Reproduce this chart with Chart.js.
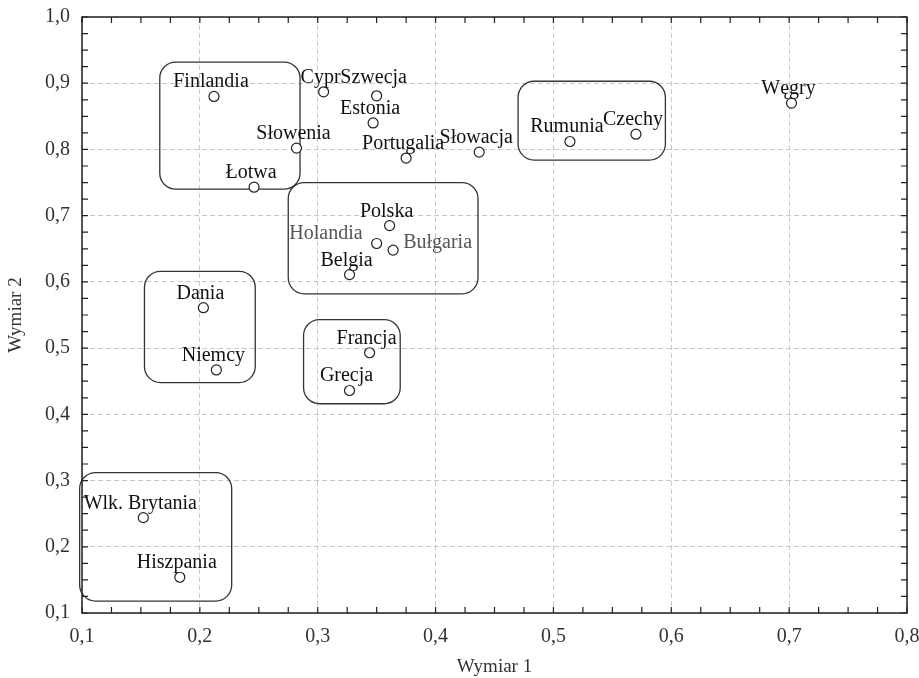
<!DOCTYPE html>
<html lang="pl">
<head>
<meta charset="utf-8">
<title>Wymiar 1 / Wymiar 2</title>
<script src="https://cdn.jsdelivr.net/npm/chart.js@4.4.1/dist/chart.umd.min.js"></script>
<style>
  html, body { margin: 0; padding: 0; background: #fff; }
  #wrap { width: 919px; height: 678px; }
</style>
</head>
<body>
<div id="wrap"><canvas id="chart"></canvas></div>
<script>
// dane
const countries = ['Finlandia', 'Cypr', 'Szwecja', 'Estonia', 'Słowenia', 'Portugalia', 'Słowacja',
  'Rumunia', 'Czechy', 'Węgry', 'Łotwa', 'Polska', 'Holandia', 'Bułgaria', 'Belgia',
  'Dania', 'Niemcy', 'Francja', 'Grecja', 'Wlk. Brytania', 'Hiszpania'];
const dim1 = [0.212, 0.305, 0.350, 0.347, 0.282, 0.375, 0.437,
  0.514, 0.570, 0.702, 0.246, 0.361, 0.350, 0.364, 0.327,
  0.203, 0.214, 0.344, 0.327, 0.152, 0.183];
const dim2 = [0.880, 0.887, 0.881, 0.840, 0.802, 0.787, 0.796,
  0.812, 0.823, 0.870, 0.743, 0.685, 0.658, 0.648, 0.611,
  0.561, 0.467, 0.493, 0.436, 0.244, 0.154];
// miejsce etykiety: 'top', 'high', 'left' albo 'right'
const labelSide = ['top', 'top', 'high', 'top', 'top', 'top', 'top',
  'top', 'top', 'top', 'top', 'top', 'left', 'right', 'top',
  'top', 'top', 'top', 'top', 'top', 'top'];
const greyLabels = ['Holandia', 'Bułgaria'];

// grupy (ramki) w jednostkach osi: [x0, x1, y dół, y góra]
const groups = [
  [0.166, 0.285, 0.740, 0.932],
  [0.275, 0.436, 0.582, 0.750],
  [0.470, 0.595, 0.784, 0.903],
  [0.153, 0.247, 0.448, 0.616],
  [0.288, 0.370, 0.416, 0.543],
  [0.098, 0.227, 0.118, 0.312]
];

const xTicks = [0.1, 0.2, 0.3, 0.4, 0.5, 0.6, 0.7, 0.8];
const yTicks = [0.1, 0.2, 0.3, 0.4, 0.5, 0.6, 0.7, 0.8, 0.9, 1.0];

const serif = '"Liberation Serif", "Times New Roman", serif';

function fmt(v) {
  return v.toFixed(1).replace('.', ',');
}

function roundRect(ctx, x, y, w, h, r) {
  ctx.beginPath();
  ctx.moveTo(x + r, y);
  ctx.lineTo(x + w - r, y);
  ctx.arcTo(x + w, y, x + w, y + r, r);
  ctx.lineTo(x + w, y + h - r);
  ctx.arcTo(x + w, y + h, x + w - r, y + h, r);
  ctx.lineTo(x + r, y + h);
  ctx.arcTo(x, y + h, x, y + h - r, r);
  ctx.lineTo(x, y + r);
  ctx.arcTo(x, y, x + r, y, r);
  ctx.closePath();
}

// ramka, znaczniki do wewnątrz, grupy i podpisy punktów
const extrasPlugin = {
  id: 'extras',
  beforeDatasetsDraw(chart) {
    const ctx = chart.ctx;
    const xs = chart.scales.x, ys = chart.scales.y;
    ctx.save();
    ctx.strokeStyle = '#333';
    ctx.lineWidth = 1.3;
    groups.forEach(g => {
      const x0 = xs.getPixelForValue(g[0]), x1 = xs.getPixelForValue(g[1]);
      const yb = ys.getPixelForValue(g[2]), yt = ys.getPixelForValue(g[3]);
      roundRect(ctx, x0, yt, x1 - x0, yb - yt, 16);
      ctx.stroke();
    });
    ctx.restore();
  },
  afterDatasetsDraw(chart) {
    const ctx = chart.ctx;
    const a = chart.chartArea;
    const xs = chart.scales.x, ys = chart.scales.y;
    ctx.save();
    ctx.strokeStyle = '#222';
    ctx.lineWidth = 1.5;
    ctx.strokeRect(a.left, a.top, a.right - a.left, a.bottom - a.top);
    ctx.lineWidth = 1.2;
    const tl = 6;
    ctx.beginPath();
    for (let v = 0.1; v < 0.8001; v += 0.025) {
      const px = xs.getPixelForValue(v);
      ctx.moveTo(px, a.bottom); ctx.lineTo(px, a.bottom - tl);
      ctx.moveTo(px, a.top); ctx.lineTo(px, a.top + tl);
    }
    for (let v = 0.1; v < 1.0001; v += 0.025) {
      const py = ys.getPixelForValue(v);
      ctx.moveTo(a.left, py); ctx.lineTo(a.left + tl, py);
      ctx.moveTo(a.right, py); ctx.lineTo(a.right - tl, py);
    }
    ctx.stroke();

    ctx.font = '20px ' + serif;
    ctx.textBaseline = 'alphabetic';
    countries.forEach((name, i) => {
      const px = xs.getPixelForValue(dim1[i]);
      const py = ys.getPixelForValue(dim2[i]);
      ctx.fillStyle = greyLabels.includes(name) ? '#555' : '#111';
      if (labelSide[i] === 'left') {
        ctx.textAlign = 'right';
        ctx.fillText(name, px - 14, py - 4);
      } else if (labelSide[i] === 'right') {
        ctx.textAlign = 'left';
        ctx.fillText(name, px + 10, py - 2);
      } else {
        ctx.textAlign = 'center';
        ctx.fillText(name, px - 3, py - (labelSide[i] === 'high' ? 13 : 9));
      }
    });
    ctx.restore();
  }
};

const ctx = document.getElementById('chart').getContext('2d');
new Chart(ctx, {
  type: 'scatter',
  data: {
    datasets: [{
      label: 'Kraje',
      data: countries.map((c, i) => ({ x: dim1[i], y: dim2[i] })),
      pointRadius: 5,
      pointHoverRadius: 5,
      pointBackgroundColor: '#fff',
      pointBorderColor: '#222',
      pointBorderWidth: 1.2
    }]
  },
  options: {
    responsive: true,
    maintainAspectRatio: false,
    animation: false,
    layout: { padding: { top: 17, right: 12, left: 0, bottom: 0 } },
    plugins: {
      legend: { display: false },
      tooltip: { enabled: false }
    },
    scales: {
      x: {
        type: 'linear',
        min: 0.1,
        max: 0.8,
        afterFit(scale) {
          scale.height = 65;
          scale.paddingLeft = 0;
          scale.paddingRight = 0;
        },
        afterBuildTicks(scale) { scale.ticks = xTicks.map(v => ({ value: v })); },
        ticks: {
          padding: 12,
          color: '#333',
          font: { family: serif, size: 20 },
          callback: v => fmt(v)
        },
        grid: { color: '#c8c8c8', lineWidth: 1, drawTicks: false },
        border: { display: false, dash: [5, 3] },
        title: {
          display: true,
          text: 'Wymiar 1',
          color: '#333',
          font: { family: serif, size: 19 },
          padding: { top: 0, bottom: 0 }
        }
      },
      y: {
        type: 'linear',
        min: 0.1,
        max: 1.0,
        afterFit(scale) {
          scale.width = 82;
          scale.paddingTop = 0;
          scale.paddingBottom = 0;
        },
        afterBuildTicks(scale) { scale.ticks = yTicks.map(v => ({ value: v })); },
        ticks: {
          padding: 12,
          color: '#333',
          font: { family: serif, size: 20 },
          callback: v => fmt(v)
        },
        grid: { color: '#c8c8c8', lineWidth: 1, drawTicks: false },
        border: { display: false, dash: [5, 3] },
        title: {
          display: true,
          text: 'Wymiar 2',
          color: '#333',
          font: { family: serif, size: 19 },
          padding: { top: 5, bottom: 0 }
        }
      }
    }
  },
  plugins: [extrasPlugin]
});
</script>
</body>
</html>
